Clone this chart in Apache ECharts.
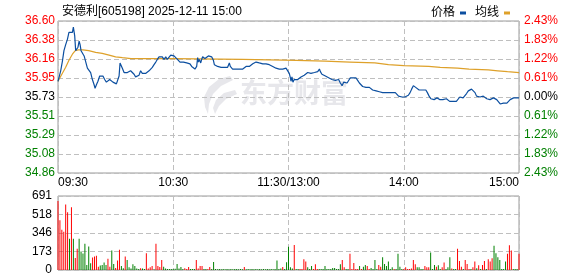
<!DOCTYPE html>
<html><head><meta charset="utf-8">
<script src="https://cdn.jsdelivr.net/npm/echarts@6/dist/echarts.min.js"></script>
<style>html,body{margin:0;padding:0;background:#fff}#c{width:578px;height:276px}</style>
</head><body><div id="c"></div>
<script>
const titleText = '安德利[605198] 2025-12-11 15:00';
const seriesNames = ['价格', '均线'];
const timeLabels = ['09:30', '10:30', '11:30/13:00', '14:00', '15:00'];
const priceTicks = ['34.86', '35.08', '35.29', '35.51', '35.73', '35.95', '36.16', '36.38', '36.60'];
const pctTicks = ['2.43%', '1.83%', '1.22%', '0.61%', '0.00%', '0.61%', '1.22%', '1.83%', '2.43%'];
const volTicks = ['0', '173', '346', '518', '691'];
const priceMin = 34.86, priceMax = 36.60, volMax = 691;

// [minute index, price]
const pricePoints = [
[0,35.91],[1.4,36.03],[2.3,36.14],[3.1,36.26],[4.0,36.33],[4.9,36.39],[5.7,36.47],[6.6,36.48],[7.5,36.47],[8.0,36.53],[8.7,36.43],[9.2,36.26],[9.7,36.26],[10.4,36.30],[11.0,36.37],[11.5,36.33],[12.0,36.26],[12.7,36.28],[13.6,36.20],[14.4,36.18],[15.3,36.06],[16.2,36.07],[17.0,36.01],[17.9,35.93],[18.8,35.87],[19.3,35.83],[20.0,35.87],[20.8,35.91],[21.7,35.97],[22.6,35.98],[23.4,35.97],[24.3,35.93],[25.2,35.90],[26.0,35.88],[26.9,35.93],[27.8,35.91],[28.6,35.90],[29.5,35.88],[30.4,35.88],[31.2,35.88],[31.8,35.97],[32.3,36.12],[33.0,36.10],[33.5,36.06],[34.4,36.01],[35.2,36.03],[36.1,36.01],[37.0,35.99],[37.8,36.03],[38.7,36.02],[39.6,35.99],[40.4,35.96],[41.3,35.94],[42.2,35.98],[43.0,36.03],[43.9,36.00],[44.8,36.02],[45.6,36.00],[46.5,36.01],[47.4,36.03],[48.3,36.05],[49.1,36.07],[50.0,36.10],[50.9,36.13],[51.7,36.16],[52.6,36.19],[53.5,36.21],[54.3,36.19],[55.2,36.16],[56.1,36.19],[56.9,36.16],[57.8,36.16],[58.7,36.21],[59.5,36.21],[60.4,36.20],
[60.9,36.19],[61.8,36.17],[62.7,36.15],[63.5,36.13],[64.4,36.12],[65.3,36.13],[66.1,36.12],[67.0,36.12],[67.9,36.10],[68.7,36.11],[69.6,36.08],[70.5,36.07],[71.3,36.05],[72.2,36.08],[72.7,36.18],[73.1,36.13],[73.6,36.16],[74.3,36.12],[74.8,36.16],[75.3,36.19],[76.0,36.18],[76.5,36.17],[77.4,36.18],[78.3,36.20],[79.1,36.19],[80.0,36.19],[80.9,36.15],[81.4,36.10],[82.3,36.10],[83.1,36.08],[84.0,36.08],[84.9,36.07],[85.7,36.06],[86.6,36.07],[87.5,36.06],[88.3,36.07],[89.2,36.12],[89.7,36.08],[90.4,36.06],[90.9,36.05],[91.8,36.06],[92.7,36.05],[93.5,36.07],[94.4,36.05],[95.3,36.06],[96.2,36.05],[97.0,36.07],[97.9,36.08],[98.8,36.08],[99.6,36.08],[100.5,36.10],[101.4,36.11],[102.2,36.12],[103.1,36.13],[104.0,36.11],[104.8,36.12],[105.7,36.11],[106.6,36.11],[107.4,36.12],[108.3,36.11],[109.2,36.09],[110.0,36.10],[110.9,36.09],[111.8,36.08],[112.6,36.07],[113.5,36.06],[114.4,36.05],[115.2,36.05],[116.1,36.05],[117.0,36.05],[117.8,36.06],[118.7,36.06],[119.6,36.05],
[120.4,36.00],[121.0,35.95],[121.3,35.91],[121.8,35.96],[122.3,35.90],[123.0,35.93],[123.9,35.92],[124.8,35.93],[125.6,35.95],[126.5,35.96],[127.4,35.97],[128.2,35.98],[129.1,36.00],[130.0,36.01],[130.8,36.02],[131.7,36.00],[132.6,35.98],[133.5,36.01],[134.3,36.00],[135.2,36.02],[136.1,36.05],[136.6,36.02],[137.4,35.99],[138.3,35.98],[139.2,35.97],[140.0,35.96],[140.9,35.95],[141.8,35.95],[142.6,35.93],[143.5,35.94],[144.4,35.92],[145.2,35.91],[146.1,35.93],[147.0,35.89],[147.9,35.86],[148.7,35.90],[149.6,35.88],[150.5,35.89],[151.3,35.90],[152.2,35.95],[152.7,35.96],[153.4,35.95],[154.3,35.95],[155.1,35.95],[156.0,35.92],[156.9,35.89],[157.7,35.87],[158.6,35.85],[159.5,35.84],[160.3,35.84],[161.2,35.83],[162.1,35.84],[163.0,35.83],[163.8,35.81],[164.7,35.80],[165.6,35.80],[166.4,35.81],[167.3,35.79],[168.2,35.79],[169.0,35.78],[169.9,35.78],[170.8,35.78],[171.6,35.79],[172.5,35.78],[173.4,35.79],[174.2,35.78],[175.1,35.80],[175.6,35.78],[176.5,35.77],[177.3,35.74],[178.2,35.73],[179.1,35.73],[180.0,35.74],
[180.6,35.73],[181.5,35.74],[182.4,35.75],[183.3,35.78],[184.1,35.82],[185.0,35.86],[185.5,35.87],[186.2,35.84],[187.1,35.82],[188.0,35.81],[188.8,35.82],[189.7,35.81],[190.6,35.82],[191.5,35.81],[192.3,35.78],[193.2,35.74],[194.1,35.71],[195.0,35.71],[195.8,35.70],[196.7,35.68],[197.3,35.72],[197.8,35.73],[198.7,35.70],[199.6,35.70],[200.4,35.70],[201.3,35.70],[202.2,35.71],[203.1,35.73],[203.9,35.68],[204.8,35.68],[205.7,35.68],[206.6,35.68],[207.4,35.68],[208.3,35.69],[209.2,35.73],[210.1,35.74],[210.9,35.72],[211.8,35.74],[212.7,35.77],[213.6,35.80],[214.4,35.82],[215.3,35.82],[216.2,35.82],[217.1,35.78],[217.9,35.74],[218.8,35.73],[219.7,35.73],[220.6,35.73],[221.4,35.74],[222.3,35.75],[223.2,35.71],[224.1,35.70],[224.9,35.70],[225.8,35.71],[226.7,35.72],[227.6,35.73],[228.4,35.70],[229.3,35.68],[230.2,35.65],[231.1,35.66],[231.9,35.66],[232.8,35.65],[233.7,35.66],[234.6,35.68],[235.4,35.70],[236.3,35.71],[237.2,35.72],[238.1,35.72],[239.0,35.72],[240,35.72]
];

// [minute index, average price]
const avgPoints = [
[0,35.91],[2,35.99],[4,36.07],[5.7,36.15],[7.5,36.22],[9,36.26],[10.5,36.27],[13,36.27],[16,36.26],[19.6,36.24],[23,36.23],[26.6,36.21],[30,36.19],[33.5,36.18],[38,36.17],[60,36.17],[96,36.16],[124,36.15],[139,36.14],[152,36.13],[165,36.12],[172,36.10],[180,36.09],[193,36.08],[199,36.07],[208,36.06],[214,36.05],[224,36.04],[229,36.03],[234,36.02],[240,36.01]
];

const volumes = [
644,465,377,358,612,540,292,587,292,113,
198,292,173,154,245,47,220,63,116,126,
132,31,41,47,69,47,104,31,182,57,
19,88,188,38,16,126,94,25,13,53,
38,13,9,16,13,9,157,13,25,38,
6,245,38,28,94,31,13,9,9,9,
9,12,57,13,28,9,16,9,28,9,
9,9,94,13,38,38,9,9,9,28,
9,75,9,6,9,6,9,6,9,6,
9,6,9,9,6,9,6,28,6,9,
6,9,6,9,6,9,6,9,6,9,
6,9,6,9,88,9,13,28,9,72,
218,25,13,234,9,9,9,9,100,79,
25,9,38,9,53,9,9,9,9,38,
9,9,9,19,19,9,9,53,94,25,
9,9,151,9,66,9,9,38,9,31,
47,38,9,19,9,94,9,47,31,119,
57,38,79,9,25,9,9,151,31,9,
9,25,9,9,13,94,53,25,25,9,
9,38,25,25,163,9,47,31,44,9,
25,69,9,25,119,13,9,9,198,85,
31,9,94,57,9,9,25,79,16,44,
9,47,85,9,100,79,110,226,157,119,
94,9,9,79,151,232,182,9,9,9,151
];
const volUp = [
1,1,1,1,1,1,0,1,0,1,
1,0,0,0,0,0,0,0,1,1,
1,1,0,0,0,0,1,1,0,0,
1,1,1,0,0,1,0,0,0,0,
0,0,0,1,0,0,1,1,1,1,
0,1,1,1,1,0,0,0,0,0,
0,0,0,0,0,0,1,1,1,0,
0,0,1,1,1,1,0,0,1,1,
0,0,0,0,0,0,0,0,0,0,
0,0,0,0,0,0,0,1,0,0,
0,0,0,0,0,0,0,0,0,0,
0,0,0,0,0,0,0,1,0,0,
0,0,0,1,0,0,1,1,1,1,
0,0,0,1,1,1,0,0,0,0,
0,0,0,0,0,0,0,0,1,1,
0,0,1,1,1,1,1,0,1,0,
0,1,1,0,0,0,0,1,1,0,
0,0,0,0,0,1,0,0,0,0,
1,1,1,1,1,1,1,0,0,0,
0,1,1,1,0,0,0,1,0,0,
1,1,0,0,0,1,0,0,1,1,
1,0,1,1,1,0,1,1,0,1,
0,1,1,0,1,1,1,0,0,0,
0,0,0,0,1,1,1,0,0,0,1
];

const FONT = '"Liberation Sans","Noto Sans CJK SC",sans-serif';
const RED = '#ff0000', GREEN = '#008000', BLACK = '#000000';
const BLUE = '#0c4fa0', GOLD = '#dea12a';
const GRIDC = '#bfbfbf';
const priceStep = (priceMax - priceMin) / 8;
const volStep = volMax / 4;
const pIdx = v => Math.round((v - priceMin) / priceStep);
const levelColor = i => i > 4 ? RED : (i < 4 ? GREEN : BLACK);
const dashLine = () => ({ show: true, lineStyle: { type: [5, 3], color: GRIDC, width: 1 } });

const chart = echarts.init(document.getElementById('c'), null, { renderer: 'canvas' });
chart.setOption({
  animation: false,
  textStyle: { fontFamily: FONT },
  title: { text: titleText, left: 57, top: 1, textStyle: { fontSize: 12, fontWeight: 'normal', color: '#000', fontFamily: FONT } },
  legend: {
    right: 63, top: 2, align: 'right', itemWidth: 6, itemHeight: 3, itemGap: 9,
    textStyle: { fontSize: 12, color: '#000', fontFamily: FONT },
    data: [{ name: seriesNames[0], icon: 'rect' }, { name: seriesNames[1], icon: 'rect' }]
  },
  graphic: [{
    type: 'text', left: 240, top: 79, z: -10, silent: true,
    style: { text: '东方财富', font: 'bold 27px "Noto Sans CJK SC"', fill: '#e7e7eb' }
  }, {
    type: 'polygon', z: -10, silent: true,
    shape: { points: [[230,76],[219,79],[209,87],[204,97],[205,107],[208,114],[209,104],[213,94],[221,86],[233,80]] },
    style: { fill: '#e7e7eb' }
  }, {
    type: 'polygon', z: -10, silent: true,
    shape: { points: [[235,90],[224,93],[216,100],[213,108],[215,114],[219,106],[226,99],[237,94]] },
    style: { fill: '#e7e7eb' }
  }],
  grid: [
    { left: 58, right: 59, top: 21, height: 152, show: true, backgroundColor: 'transparent', borderColor: '#9a9a9a', borderWidth: 1 },
    { left: 58, right: 59, top: 196, height: 74, show: true, backgroundColor: 'transparent', borderColor: '#9a9a9a', borderWidth: 1 }
  ],
  xAxis: [
    { type: 'value', gridIndex: 0, min: 0, max: 240, interval: 60,
      axisLine: { show: false }, axisTick: { show: false },
      splitLine: dashLine(),
      axisLabel: { show: true, margin: 4, fontSize: 12, color: '#000', fontFamily: FONT,
        alignMinLabel: 'left', alignMaxLabel: 'right',
        formatter: v => timeLabels[Math.round(v / 60)] } },
    { type: 'value', gridIndex: 1, min: 0, max: 240, interval: 60,
      axisLine: { show: false }, axisTick: { show: false },
      splitLine: dashLine(), axisLabel: { show: false } }
  ],
  yAxis: [
    { type: 'value', gridIndex: 0, min: priceMin, max: priceMax, interval: priceStep, position: 'left',
      axisLine: { show: false }, axisTick: { show: false }, splitLine: dashLine(),
      axisLabel: { margin: 3, fontSize: 12, fontFamily: FONT,
        formatter: v => priceTicks[pIdx(v)], color: v => levelColor(pIdx(v)) } },
    { type: 'value', gridIndex: 0, min: priceMin, max: priceMax, interval: priceStep, position: 'right',
      axisLine: { show: false }, axisTick: { show: false }, splitLine: { show: false },
      axisLabel: { margin: 5, fontSize: 12, fontFamily: FONT,
        formatter: v => pctTicks[pIdx(v)], color: v => levelColor(pIdx(v)) } },
    { type: 'value', gridIndex: 1, min: 0, max: volMax, interval: volStep, position: 'left',
      axisLine: { show: false }, axisTick: { show: false }, splitLine: dashLine(),
      axisLabel: { margin: 6, fontSize: 12, color: '#000', fontFamily: FONT,
        formatter: v => volTicks[Math.round(v / volStep)] } }
  ],
  series: [
    { name: seriesNames[0], type: 'line', xAxisIndex: 0, yAxisIndex: 0, data: pricePoints,
      showSymbol: false, symbol: 'none', lineStyle: { color: BLUE, width: 1.2 }, itemStyle: { color: BLUE }, z: 3 },
    { name: seriesNames[1], type: 'line', xAxisIndex: 0, yAxisIndex: 0, data: avgPoints,
      showSymbol: false, symbol: 'none', lineStyle: { color: GOLD, width: 1.2 }, itemStyle: { color: GOLD }, z: 2 },
    { type: 'bar', xAxisIndex: 1, yAxisIndex: 2, barWidth: 1, z: 2,
      data: volumes.map((v, i) => ({ value: [i, v], itemStyle: { color: volUp[i] ? RED : GREEN } })) }
  ]
});
</script>
</body></html>
